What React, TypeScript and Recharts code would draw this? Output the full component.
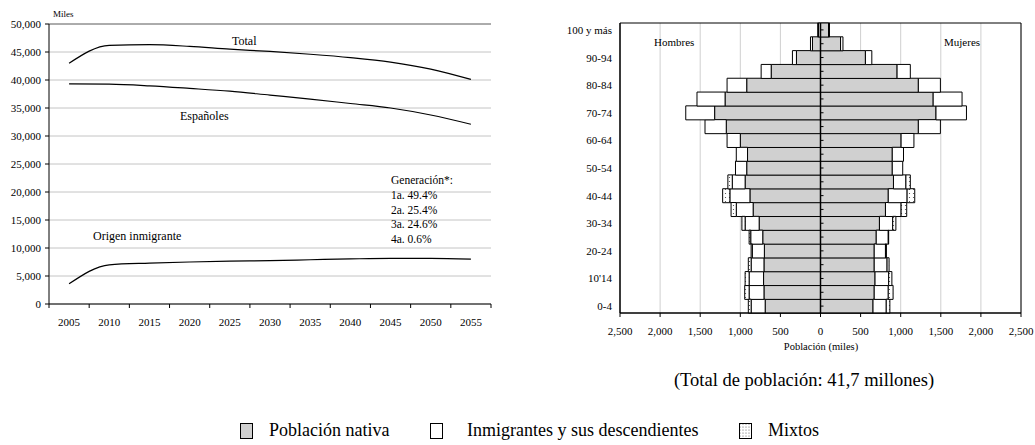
import React from 'react';
import {
  LineChart,
  Line,
  BarChart,
  Bar,
  XAxis,
  YAxis,
  CartesianGrid,
  ReferenceLine,
  ReferenceArea,
} from 'recharts';

const FONT = '"Liberation Serif", "Times New Roman", serif';

// left panel: population projection (thousands)
const years = ['2005', '2010', '2015', '2020', '2025', '2030', '2035', '2040', '2045', '2050', '2055'];
const totalPop = [43000, 46200, 46300, 46000, 45500, 45100, 44600, 44000, 43200, 41950, 40100];
const spanishPop = [39300, 39250, 38950, 38500, 38000, 37300, 36600, 35800, 35000, 33750, 32100];
const immigrantOriginPop = [3600, 7000, 7300, 7500, 7650, 7750, 7900, 8050, 8150, 8150, 8000];
const yTicks = [0, 5000, 10000, 15000, 20000, 25000, 30000, 35000, 40000, 45000, 50000];
const generationNotes = ['Generación*:', '1a. 49.4%', '2a. 25.4%', '3a. 24.6%', '4a. 0.6%'];

// right panel: age pyramid (thousands), from 0-4 upwards
const ageGroups = [
  '0-4', '5-9', "10'14", '15-19', '20-24', '25-29', '30-34', '35-39', '40-44', '45-49', '50-54',
  '55-59', '60-64', '65-69', '70-74', '75-79', '80-84', '85-89', '90-94', '95-99', '100 y más',
];
const labeledAges = ['0-4', "10'14", '20-24', '30-34', '40-44', '50-54', '60-64', '70-74', '80-84', '90-94', '100 y más'];
const menNative = [690, 705, 710, 705, 700, 720, 765, 840, 880, 940, 920, 910, 1000, 1175, 1320, 1190, 920, 615, 300, 100, 25];
const menImmigrant = [175, 185, 180, 160, 150, 150, 175, 210, 250, 160, 140, 140, 165, 265, 360, 350, 245, 125, 50, 25, 10];
const menMixed = [35, 55, 50, 35, 15, 20, 40, 65, 90, 55, 0, 0, 0, 0, 0, 0, 0, 0, 0, 0, 0];
const womenNative = [655, 670, 680, 670, 670, 695, 735, 810, 845, 910, 895, 895, 1005, 1220, 1440, 1405, 1220, 955, 560, 250, 100];
const womenImmigrant = [165, 175, 170, 160, 140, 150, 165, 195, 235, 155, 130, 140, 160, 275, 380, 360, 275, 165, 80, 30, 12];
const womenMixed = [45, 60, 40, 25, 12, 5, 40, 70, 95, 55, 0, 0, 0, 0, 0, 0, 0, 0, 0, 0, 0];
const popTicks = [-2500, -2000, -1500, -1000, -500, 0, 500, 1000, 1500, 2000, 2500];

const legendItems = [
  { label: 'Población nativa', fill: '#d0d0d0' },
  { label: 'Inmigrantes y sus descendientes', fill: '#ffffff' },
  { label: 'Mixtos', fill: 'url(#legendDots)' },
];

const lineData = years.map((year, i) => ({
  year,
  total: totalPop[i],
  spanish: spanishPop[i],
  immigrant: immigrantOriginPop[i],
}));

const pyramidData = ageGroups.map((age, i) => ({
  age,
  mNative: -menNative[i],
  mImm: -menImmigrant[i],
  mMixed: -menMixed[i],
  fNative: womenNative[i],
  fImm: womenImmigrant[i],
  fMixed: womenMixed[i],
}));

const fmt = (v: number) => Math.abs(v).toLocaleString('en-US');

const LEFT_PLOT_W = 442;
const HALF_BAND = LEFT_PLOT_W / years.length / 2;
// pyramid plot: left edge 80, width 401 inside its svg
const PYR_CENTER_X = 80 + 401 / 2;

function YearTick(props: any) {
  const { x, y, payload, index } = props;
  return (
    <g>
      <line x1={x - HALF_BAND} x2={x - HALF_BAND} y1={y} y2={y + 4} stroke='#000' />
      {index === years.length - 1 && (
        <line x1={x + HALF_BAND} x2={x + HALF_BAND} y1={y} y2={y + 4} stroke='#000' />
      )}
      <text x={x} y={y + 22} textAnchor='middle' fontSize={11} fontFamily={FONT} fill='#000'>
        {payload.value}
      </text>
    </g>
  );
}

function PopTick(props: any) {
  const { x, y, payload } = props;
  return (
    <g>
      <line x1={x} x2={x} y1={y} y2={y + 4} stroke='#000' />
      <text x={x} y={y + 22} textAnchor='middle' fontSize={11} fontFamily={FONT} fill='#000'>
        {fmt(payload.value)}
      </text>
    </g>
  );
}

function AgeTick(props: any) {
  const { x, y, payload } = props;
  return (
    <g>
      <line x1={PYR_CENTER_X} x2={PYR_CENTER_X + 3} y1={y} y2={y} stroke='#000' />
      {labeledAges.includes(payload.value) && (
        <text x={x} y={y + 4} textAnchor='end' fontSize={11} fontFamily={FONT} fill='#000'>
          {payload.value}
        </text>
      )}
    </g>
  );
}

function ProjectionChart() {
  return (
    <LineChart
      width={500}
      height={340}
      data={lineData}
      margin={{ top: 24, right: 9, bottom: 6, left: 4 }}
    >
      <CartesianGrid vertical={false} stroke='#c4c4c4' />
      <XAxis
        dataKey='year'
        scale='band'
        height={30}
        tickLine={false}
        tickSize={0}
        tickMargin={0}
        interval={0}
        axisLine={{ stroke: '#000' }}
        tick={<YearTick />}
      />
      <YAxis
        domain={[0, 50000]}
        ticks={yTicks}
        width={45}
        tickSize={4}
        tickMargin={4}
        tickFormatter={fmt}
        axisLine={{ stroke: '#000' }}
        tickLine={{ stroke: '#000' }}
        tick={{ fontSize: 11, fontFamily: FONT, fill: '#000' }}
      />
      <YAxis
        yAxisId='r'
        orientation='right'
        width={0}
        tick={false}
        tickLine={false}
        axisLine={{ stroke: '#000' }}
      />
      <ReferenceLine y={50000} stroke='#777' />
      <Line type='monotone' dataKey='total' stroke='#000' strokeWidth={1.2} dot={false} isAnimationActive={false} />
      <Line type='monotone' dataKey='spanish' stroke='#000' strokeWidth={1.2} dot={false} isAnimationActive={false} />
      <Line type='monotone' dataKey='immigrant' stroke='#000' strokeWidth={1.2} dot={false} isAnimationActive={false} />
    </LineChart>
  );
}

function PyramidChart() {
  const barProps = { stackId: 'p', stroke: '#000', strokeWidth: 1, isAnimationActive: false };
  return (
    <BarChart
      width={495}
      height={360}
      data={pyramidData}
      layout='vertical'
      stackOffset='sign'
      barCategoryGap={0}
      margin={{ top: 23, right: 14, bottom: 17, left: 10 }}
    >
      <defs>
        <pattern id='dots' width='4' height='4' patternUnits='userSpaceOnUse'>
          <rect width='4' height='4' fill='#fff' />
          <circle cx='1.5' cy='1.5' r='0.6' fill='#444' />
        </pattern>
      </defs>
      <CartesianGrid horizontal={false} stroke='#cfcfcf' />
      <XAxis
        type='number'
        domain={[-2500, 2500]}
        ticks={popTicks}
        interval={0}
        height={30}
        tickSize={0}
        tickMargin={0}
        tickLine={false}
        axisLine={{ stroke: '#000' }}
        tick={<PopTick />}
      />
      <YAxis
        type='category'
        dataKey='age'
        reversed
        interval={0}
        width={70}
        tickLine={false}
        axisLine={{ stroke: '#000' }}
        tick={<AgeTick />}
      />
      <ReferenceArea x1={-2500} x2={2500} fill='none' stroke='#000' strokeWidth={1} />
      <Bar dataKey='mNative' fill='#d0d0d0' {...barProps} />
      <Bar dataKey='mImm' fill='#fff' {...barProps} />
      <Bar dataKey='mMixed' fill='url(#dots)' {...barProps} />
      <Bar dataKey='fNative' fill='#d0d0d0' {...barProps} />
      <Bar dataKey='fImm' fill='#fff' {...barProps} />
      <Bar dataKey='fMixed' fill='url(#dots)' {...barProps} />
      <ReferenceLine x={0} stroke='#000' strokeWidth={1.5} />
    </BarChart>
  );
}

const txt: React.CSSProperties = { position: 'absolute', whiteSpace: 'nowrap', lineHeight: 1 };

export default function App() {
  return (
    <div
      style={{
        position: 'absolute',
        left: 0,
        top: 0,
        width: 1035,
        height: 445,
        background: '#fff',
        fontFamily: FONT,
        color: '#000',
        overflow: 'hidden',
      }}
    >
      <div style={{ position: 'absolute', left: 0, top: 0 }}>
        <ProjectionChart />
      </div>
      <div style={{ position: 'absolute', left: 540, top: 0 }}>
        <PyramidChart />
      </div>

      {/* annotations, left panel */}
      <div style={{ ...txt, left: 53, top: 10, fontSize: 9 }}>Miles</div>
      <div style={{ ...txt, left: 232, top: 35, fontSize: 12 }}>Total</div>
      <div style={{ ...txt, left: 180, top: 110, fontSize: 12 }}>Españoles</div>
      <div style={{ ...txt, left: 93, top: 230, fontSize: 12 }}>Origen inmigrante</div>
      <div style={{ ...txt, left: 391, top: 173, fontSize: 11.5, lineHeight: '14.8px' }}>
        {generationNotes.map((n) => (
          <div key={n}>{n}</div>
        ))}
      </div>

      {/* annotations, right panel */}
      <div style={{ ...txt, left: 654, top: 37, fontSize: 11 }}>Hombres</div>
      <div style={{ ...txt, left: 944, top: 37, fontSize: 11 }}>Mujeres</div>
      <div style={{ ...txt, left: 821, top: 342, fontSize: 10.5, transform: 'translateX(-50%)' }}>
        Población (miles)
      </div>
      <div style={{ ...txt, left: 804, top: 371, fontSize: 18.5, transform: 'translateX(-50%)' }}>
        (Total de población: 41,7 millones)
      </div>

      {/* legend */}
      {legendItems.map((item, i) => {
        const boxX = [240, 430, 739][i];
        return (
          <div key={item.label} style={{ position: 'absolute', left: boxX, top: 420, display: 'flex', alignItems: 'center' }}>
            <svg width={13} height={16} style={{ display: 'block' }}>
              <defs>
                <pattern id='legendDots' width='3' height='3' patternUnits='userSpaceOnUse'>
                  <rect width='3' height='3' fill='#fff' />
                  <circle cx='1' cy='1' r='0.55' fill='#555' />
                </pattern>
              </defs>
              <rect x={0.5} y={0.5} width={12} height={15} fill={item.fill} stroke='#000' />
            </svg>
            <span style={{ fontSize: 18, marginLeft: i === 1 ? 24 : 16, whiteSpace: 'nowrap' }}>{item.label}</span>
          </div>
        );
      })}
    </div>
  );
}
